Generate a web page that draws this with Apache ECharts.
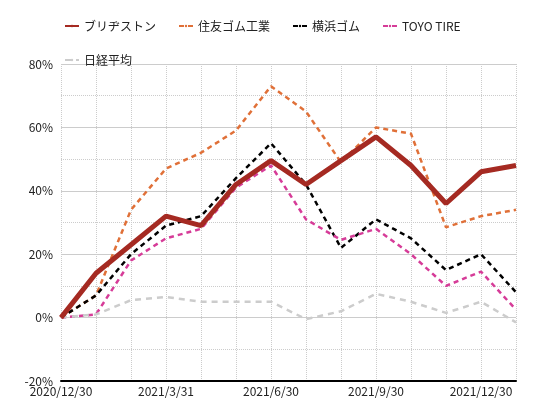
<!DOCTYPE html>
<html><head><meta charset="utf-8">
<script src="https://cdn.jsdelivr.net/npm/echarts@6/dist/echarts.min.js"></script>
<style>body{margin:0;background:#fff}#c{width:545px;height:418px}</style>
</head><body><div id="c"></div>
<script>
const dates = ['2020/12/30','2021/1/29','2021/2/26','2021/3/31','2021/4/30','2021/5/31','2021/6/30','2021/7/30','2021/8/31','2021/9/30','2021/10/29','2021/11/30','2021/12/30','2022/1/31']
const bridgestone = [0,14,23,32,29,42,49.5,42,49.5,57,48,36,46,48]
const sumitomo = [0,7,34,47,52,59,73,65,49,60,58,28.5,32,34]
const yokohama = [0,7,20,29,32,44,55,42,22,31,25,15,20,8]
const toyo = [0,1,18,25,28,41,48,31,24.5,28,20,10,14.5,2.5]
const nikkei = [0,1,5.5,6.5,5,5,5,-0.5,2,7.5,5,1.5,5,-1.5]

const mk = (name, data, color, width, type) => ({
  name, data, type:'line', symbol:'none', z: name==='ブリヂストン'?10:5,
  lineStyle:{color, width, type}, itemStyle:{color}
})
const chart = echarts.init(document.getElementById('c'))
chart.setOption({
  animation:false,
  textStyle:{fontFamily:'"Noto Sans CJK JP", sans-serif'},
  legend:{left:64, top:20, width:420, padding:0, itemWidth:14, itemHeight:3, itemGap:22,
    textStyle:{fontSize:12, color:'#222', lineHeight:12, padding:0}},
  grid:{left:61, right:29, top:64, bottom:37},
  xAxis:{type:'category', data:dates, boundaryGap:false,
    axisLine:{onZero:false, lineStyle:{color:'#000', width:2}}, axisTick:{show:false},
    axisLabel:{interval:(i)=>i%3===0, hideOverlap:false, color:'#222', fontSize:12, margin:4},
    splitLine:{show:true, interval:0, lineStyle:{color:'#ccc', type:'dotted'}}},
  yAxis:{type:'value', min:-20, max:80, interval:20,
    axisLabel:{formatter:'{value}%', color:'#222', fontSize:12},
    axisLine:{show:false}, axisTick:{show:false},
    splitLine:{lineStyle:{color:'#ccc'}},
    minorTick:{show:false, splitNumber:2},
    minorSplitLine:{show:true, lineStyle:{color:'#ccc', type:'dotted'}}},
  series:[
    mk('ブリヂストン', bridgestone, '#a52a22', 5, 'solid'),
    mk('住友ゴム工業', sumitomo, '#e07038', 2.5, [5,4]),
    mk('横浜ゴム', yokohama, '#000', 2.5, [5,4]),
    mk('TOYO TIRE', toyo, '#d63c98', 2.5, [5,4]),
    mk('日経平均', nikkei, '#ccc', 2.5, [6,5])
  ]
})
</script></body></html>
